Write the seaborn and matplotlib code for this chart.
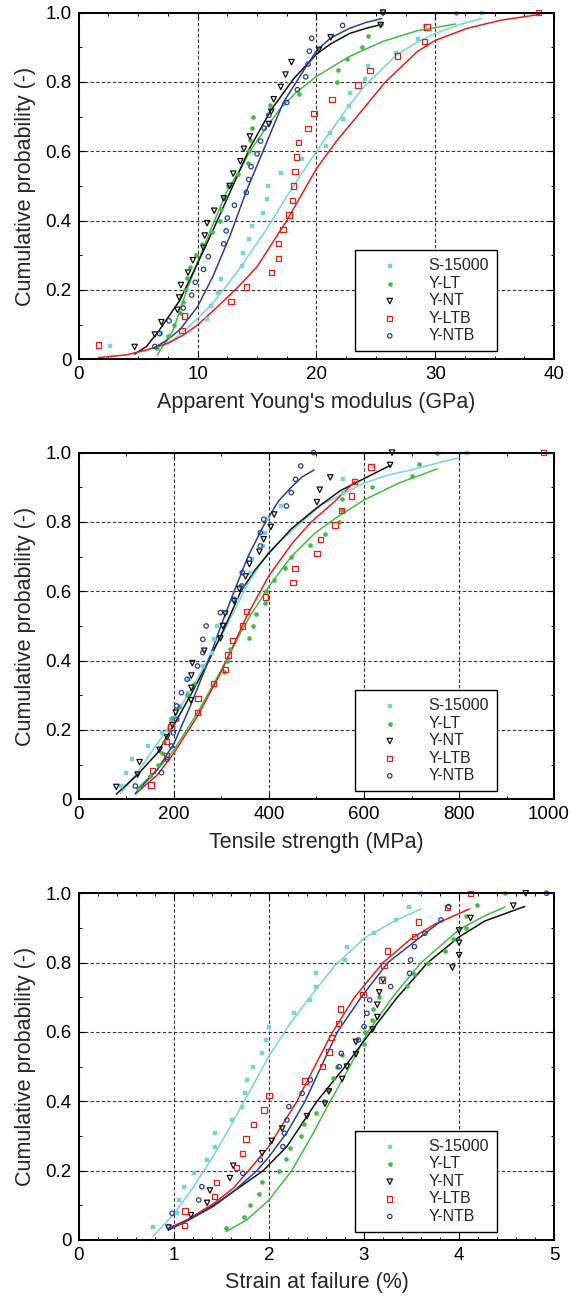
import numpy as np
import pandas as pd
import matplotlib
matplotlib.use("Agg")
import matplotlib.pyplot as plt
from matplotlib.ticker import MultipleLocator, FuncFormatter
from matplotlib.transforms import ScaledTranslation
import seaborn as sns

sns.set_style("ticks")
plt.rcParams['font.family'] = ['Liberation Sans', 'DejaVu Sans']

series_names = ["S-15000", "Y-LT", "Y-NT", "Y-LTB", "Y-NTB"]

# ---------------- Panel 1: apparent Young's modulus (GPa) ----------------
E_S15000 = [2.6, 6.9, 10.8, 11.1, 11.7, 12.0, 13.7, 13.8, 14.3, 14.6, 15.5, 15.8, 15.9,
            17.0, 18.8, 20.8, 21.15, 22.2, 22.75, 22.8, 24.1, 24.3, 26.7, 28.5, 29.1, 33.9]
E_YLT = [6.6, 7.5, 8.0, 8.5, 8.8, 8.95, 9.1, 9.4, 9.9, 10.4, 11.2, 11.9, 12.0, 12.2, 12.6,
         13.4, 14.2, 14.3, 14.4, 14.6, 14.7, 16.1, 18.5, 21.7, 21.8, 22.6, 23.8, 24.3, 25.4, 31.7]
E_YNT = [4.7, 6.4, 6.95, 8.3, 8.45, 8.6, 9.2, 9.6, 10.5, 10.6, 10.8, 11.4, 12.2, 12.7, 13.0,
         13.6, 13.9, 14.4, 16.0, 16.2, 16.4, 17.0, 17.4, 17.9, 20.2, 21.2, 25.4, 25.6]
E_YLTB = [1.65, 8.7, 8.9, 12.8, 14.1, 16.2, 16.8, 16.8, 17.2, 17.7, 18.0, 18.05, 18.2, 18.3,
          18.5, 19.3, 19.8, 21.3, 23.5, 24.5, 26.8, 29.1, 29.3, 38.7]
E_YNTB = [6.4, 6.8, 7.6, 8.8, 9.5, 9.8, 10.5, 10.9, 12.2, 12.4, 12.5, 13.1, 14.1, 14.3, 14.5,
          15.0, 15.3, 15.6, 16.0, 17.5, 18.4, 19.1, 19.3, 19.4, 19.6, 22.2, 25.6]

E_fit_S15000_x = [5.5, 6.5, 7.95, 9.0, 10.0, 11.1, 12.4, 13.7, 15.8, 17.5, 20.0, 22.8, 24.1, 26.8, 28.5, 30.0, 32.0, 33.9]
E_fit_S15000_p = [0.022, 0.035, 0.056, 0.085, 0.118, 0.155, 0.21, 0.27, 0.375, 0.47, 0.60, 0.735, 0.79, 0.88, 0.915, 0.94, 0.965, 0.983]
E_fit_YLT_x = [6.6, 7.3, 7.95, 8.5, 9.1, 10.0, 11.3, 12.4, 13.6, 14.4, 15.8, 17.0, 18.3, 20.0, 22.8, 25.6, 28.5, 31.7]
E_fit_YLT_p = [0.012, 0.05, 0.085, 0.14, 0.20, 0.28, 0.39, 0.48, 0.55, 0.60, 0.67, 0.725, 0.77, 0.816, 0.874, 0.917, 0.948, 0.967]
E_fit_YNT_x = [4.7, 5.7, 6.8, 7.6, 8.5, 10.0, 11.3, 12.7, 14.4, 16.2, 18.1, 20.0, 21.2, 22.8, 24.2, 25.6]
E_fit_YNT_p = [0.015, 0.037, 0.085, 0.125, 0.17, 0.277, 0.373, 0.48, 0.61, 0.72, 0.81, 0.88, 0.91, 0.94, 0.955, 0.967]
E_fit_YLTB_x = [1.65, 4.0, 5.7, 7.5, 8.8, 10.0, 12.0, 13.5, 15.0, 17.5, 20.0, 21.7, 23.4, 25.8, 28.5, 30.0, 32.7, 35.5, 38.8]
E_fit_YLTB_p = [0.005, 0.013, 0.027, 0.046, 0.07, 0.099, 0.162, 0.212, 0.267, 0.40, 0.55, 0.63, 0.70, 0.80, 0.888, 0.92, 0.955, 0.978, 0.995]
E_fit_YNTB_x = [6.3, 7.4, 8.5, 10.0, 11.3, 12.7, 14.1, 15.5, 17.2, 18.3, 20.0, 21.2, 22.8, 24.2, 25.5]
E_fit_YNTB_p = [0.032, 0.055, 0.085, 0.152, 0.24, 0.354, 0.485, 0.60, 0.74, 0.80, 0.89, 0.927, 0.955, 0.972, 0.983]

# ---------------- Panel 2: tensile strength (MPa) ----------------
S_S15000 = [88, 100, 113, 146, 175, 195, 214, 229, 233, 262, 281, 284, 290, 310, 330, 345,
            361, 364, 387, 392, 396, 426, 555, 556, 618, 817]
S_YLT = [124, 149, 166, 175, 180, 190, 197, 210, 227, 242, 305, 312, 318, 359, 366, 372, 392,
         394, 410, 434, 447, 487, 518, 547, 553, 553, 616, 701, 715, 754]
S_YNT = [79, 124, 128, 170, 186, 197, 204, 236, 237, 237, 239, 264, 298, 303, 308, 327, 338,
         351, 359, 380, 389, 404, 411, 501, 507, 529, 655, 659]
S_YLTB = [152, 155, 185, 185, 194, 250, 251, 284, 309, 314, 323, 345, 353, 393, 451, 455, 501,
          509, 539, 553, 574, 580, 615, 977]
S_YNTB = [119, 174, 186, 195, 199, 206, 206, 216, 228, 250, 261, 261, 268, 298, 326, 343, 344,
          359, 382, 382, 389, 437, 447, 456, 467, 494]

S_fit_S15000_x = [88, 130, 175, 200, 250, 300, 355, 400, 461, 511, 600, 650, 708, 760, 800]
S_fit_S15000_p = [0.017, 0.09, 0.18, 0.235, 0.35, 0.47, 0.62, 0.715, 0.79, 0.85, 0.912, 0.935, 0.953, 0.972, 0.985]
S_fit_YLT_x = [124, 165, 200, 249, 298, 340, 361, 400, 447, 497, 539, 601, 673, 754]
S_fit_YLT_p = [0.032, 0.085, 0.142, 0.248, 0.368, 0.479, 0.53, 0.614, 0.70, 0.768, 0.81, 0.864, 0.912, 0.953]
S_fit_YNT_x = [79, 123, 165, 200, 235, 270, 305, 341, 370, 400, 447, 500, 550, 600, 655]
S_fit_YNT_p = [0.015, 0.07, 0.133, 0.214, 0.30, 0.39, 0.49, 0.60, 0.66, 0.71, 0.78, 0.84, 0.89, 0.925, 0.963]
S_fit_YLTB_x = [119, 165, 200, 249, 298, 340, 354, 400, 450, 489, 539, 581]
S_fit_YLTB_p = [0.015, 0.07, 0.133, 0.238, 0.363, 0.488, 0.53, 0.645, 0.74, 0.80, 0.86, 0.917]
S_fit_YNTB_x = [119, 165, 200, 235, 270, 299, 324, 356, 389, 420, 447, 470, 495]
S_fit_YNTB_p = [0.017, 0.085, 0.16, 0.27, 0.39, 0.50, 0.59, 0.70, 0.79, 0.86, 0.90, 0.93, 0.95]

# ---------------- Panel 3: strain at failure (%) ----------------
F_S15000 = [0.78, 1.03, 1.056, 1.11, 1.21, 1.35, 1.43, 1.43, 1.61, 1.72, 1.75, 1.77, 1.835,
            1.93, 1.965, 2.0, 2.26, 2.43, 2.5, 2.5, 2.8, 2.82, 3.1, 3.34, 3.475, 3.6]
F_YLT = [1.55, 1.74, 1.80, 1.90, 1.93, 2.11, 2.175, 2.22, 2.34, 2.37, 2.49, 2.58, 2.63, 2.67,
         2.72, 2.77, 3.0, 3.01, 3.08, 3.09, 3.155, 3.45, 3.53, 3.67, 3.85, 3.94, 4.07, 4.07, 4.19, 4.48]
F_YNT = [0.944, 1.18, 1.35, 1.38, 1.59, 1.625, 1.93, 2.03, 2.14, 2.40, 2.59, 2.63, 2.77, 2.82,
         2.915, 2.915, 3.09, 3.14, 3.14, 3.16, 3.2, 3.93, 4.0, 4.0, 4.0, 4.12, 4.57, 4.7]
F_YLTB = [1.112, 1.116, 1.43, 1.45, 1.66, 1.72, 1.76, 1.835, 1.95, 2.0, 2.38, 2.565, 2.63, 2.66,
          2.73, 2.75, 2.99, 3.19, 3.21, 3.25, 3.53, 3.57, 3.88, 4.12]
F_YNTB = [0.944, 0.982, 1.263, 1.295, 1.726, 1.91, 2.147, 2.165, 2.19, 2.21, 2.35, 2.435, 2.74,
          2.76, 2.94, 3.0, 3.03, 3.06, 3.28, 3.48, 3.49, 3.53, 3.64, 3.81, 3.89, 4.92]

F_fit_S15000_x = [0.78, 1.0, 1.2, 1.4, 1.6, 1.8, 2.0, 2.2, 2.43, 2.69, 3.0, 3.32, 3.6]
F_fit_S15000_p = [0.01, 0.075, 0.15, 0.235, 0.33, 0.43, 0.53, 0.615, 0.70, 0.79, 0.87, 0.92, 0.955]
F_fit_YLT_x = [1.55, 1.768, 2.0, 2.24, 2.45, 2.645, 2.85, 3.04, 3.3, 3.6, 4.0, 4.27, 4.48]
F_fit_YLT_p = [0.024, 0.058, 0.115, 0.20, 0.30, 0.40, 0.50, 0.60, 0.70, 0.80, 0.895, 0.935, 0.96]
F_fit_YNT_x = [0.944, 1.172, 1.418, 1.628, 1.94, 2.19, 2.505, 2.8, 3.07, 3.35, 3.67, 4.0, 4.27, 4.69]
F_fit_YNT_p = [0.029, 0.06, 0.10, 0.14, 0.20, 0.27, 0.40, 0.50, 0.60, 0.70, 0.80, 0.874, 0.92, 0.962]
F_fit_YLTB_x = [0.944, 1.137, 1.418, 1.628, 1.786, 2.0, 2.295, 2.48, 2.67, 2.9, 3.2, 3.5, 3.74, 4.11]
F_fit_YLTB_p = [0.034, 0.058, 0.105, 0.15, 0.20, 0.27, 0.40, 0.50, 0.60, 0.70, 0.80, 0.87, 0.91, 0.955]
F_fit_YNTB_x = [0.944, 1.137, 1.418, 1.628, 1.874, 2.0, 2.19, 2.38, 2.55, 2.72, 2.97, 3.25, 3.53, 3.81]
F_fit_YNTB_p = [0.03, 0.055, 0.097, 0.14, 0.20, 0.24, 0.31, 0.40, 0.50, 0.60, 0.70, 0.80, 0.86, 0.92]

# ---------------- styles ----------------
colors = {"S-15000": "#78d5d5", "Y-LT": "#44bb44", "Y-NT": "#111111",
          "Y-LTB": "#e3231b", "Y-NTB": "#2c3e9e"}
marker_kw = {
    "S-15000": dict(marker="s", s=8, facecolor=colors["S-15000"], edgecolor=colors["S-15000"], linewidth=0.3),
    "Y-LT": dict(marker="o", s=9, facecolor=colors["Y-LT"], edgecolor=colors["Y-LT"], linewidth=0.3),
    "Y-NT": dict(marker="v", s=15, facecolor="none", edgecolor=colors["Y-NT"], linewidth=0.9),
    "Y-LTB": dict(marker="s", s=15, facecolor="none", edgecolor=colors["Y-LTB"], linewidth=0.9),
    "Y-NTB": dict(marker="o", s=10, facecolor="none", edgecolor=colors["Y-NTB"], linewidth=0.9),
}

panels = [
    dict(points=[E_S15000, E_YLT, E_YNT, E_YLTB, E_YNTB],
         curves=[(E_fit_S15000_x, E_fit_S15000_p), (E_fit_YLT_x, E_fit_YLT_p),
                 (E_fit_YNT_x, E_fit_YNT_p), (E_fit_YLTB_x, E_fit_YLTB_p),
                 (E_fit_YNTB_x, E_fit_YNTB_p)],
         xlim=(0, 40), major=10, minor=2.5, xlabel="Apparent Young's modulus (GPa)",
         bottom=0.7238),
    dict(points=[S_S15000, S_YLT, S_YNT, S_YLTB, S_YNTB],
         curves=[(S_fit_S15000_x, S_fit_S15000_p), (S_fit_YLT_x, S_fit_YLT_p),
                 (S_fit_YNT_x, S_fit_YNT_p), (S_fit_YLTB_x, S_fit_YLTB_p),
                 (S_fit_YNTB_x, S_fit_YNTB_p)],
         xlim=(0, 1000), major=200, minor=100, xlabel="Tensile strength (MPa)",
         bottom=0.3856),
    dict(points=[F_S15000, F_YLT, F_YNT, F_YLTB, F_YNTB],
         curves=[(F_fit_S15000_x, F_fit_S15000_p), (F_fit_YLT_x, F_fit_YLT_p),
                 (F_fit_YNT_x, F_fit_YNT_p), (F_fit_YLTB_x, F_fit_YLTB_p),
                 (F_fit_YNTB_x, F_fit_YNTB_p)],
         xlim=(0, 5), major=1, minor=0.2, xlabel="Strain at failure (%)",
         bottom=0.0469),
]

fig = plt.figure(figsize=(5.72, 13.01), dpi=100)
axes = []

for pan in panels:
    ax = fig.add_axes([0.1376, pan["bottom"], 0.8313, 0.2665])
    axes.append(ax)
    # fitted curves
    for name, (cx, cp) in zip(series_names, pan["curves"]):
        sns.lineplot(x=cx, y=cp, color=colors[name], lw=1.1, sort=False,
                     estimator=None, legend=False, ax=ax, zorder=3)
    # empirical cumulative probability of the measured values
    for name, vals in zip(series_names, pan["points"]):
        v = np.sort(np.asarray(vals, dtype=float))
        df = pd.DataFrame({"value": v, "cum": np.arange(1, len(v) + 1) / len(v)})
        sns.scatterplot(data=df, x="value", y="cum", color=colors[name], label=name,
                        ax=ax, clip_on=False, zorder=4, **marker_kw[name])

    ax.set_xlim(*pan["xlim"])
    ax.set_ylim(0, 1.0)
    ax.xaxis.set_major_locator(MultipleLocator(pan["major"]))
    ax.xaxis.set_minor_locator(MultipleLocator(pan["minor"]))
    ax.yaxis.set_major_locator(MultipleLocator(0.2))
    ax.yaxis.set_minor_locator(MultipleLocator(0.1))
    ax.yaxis.set_major_formatter(FuncFormatter(lambda v, p: "0" if abs(v) < 1e-9 else f"{v:.1f}"))
    ax.xaxis.set_major_formatter(FuncFormatter(lambda v, p: f"{v:g}"))
    ax.tick_params(which="both", direction="in", top=True, right=True, colors="black",
                   labelsize=13.5, pad=5)
    ax.tick_params(which="major", length=4, width=0.8)
    ax.tick_params(which="minor", length=2.2, width=0.7)
    ax.grid(True, which="major", color="#333333", linestyle=(0, (3, 2)), linewidth=0.8)
    for sp in ax.spines.values():
        sp.set_linewidth(1.4)
        sp.set_color("black")
        sp.set_zorder(5)
    ax.set_xlabel(pan["xlabel"], fontsize=15.5, labelpad=6)
    ax.set_ylabel("Cumulative probability (-)", fontsize=15.5, labelpad=7)

    leg = ax.legend(loc="lower left", bbox_to_anchor=(0.582, 0.024), fontsize=11.5,
                    frameon=True, fancybox=False, edgecolor="black", framealpha=1,
                    borderpad=0.5, labelspacing=0.15, handlelength=3.3,
                    handletextpad=0.75, borderaxespad=0, scatterpoints=1)
    leg.get_frame().set_linewidth(1.0)
    leg.set_zorder(6)

# keep the right-most "1000" tick label inside the canvas
fig.canvas.draw()
for ax in axes:
    for t in ax.xaxis.get_major_ticks():
        if t.label1.get_text() == "1000":
            t.label1.set_transform(t.label1.get_transform() +
                                   ScaledTranslation(-4 / 72, 0, fig.dpi_scale_trans))

fig.savefig("out.png", dpi=100)
